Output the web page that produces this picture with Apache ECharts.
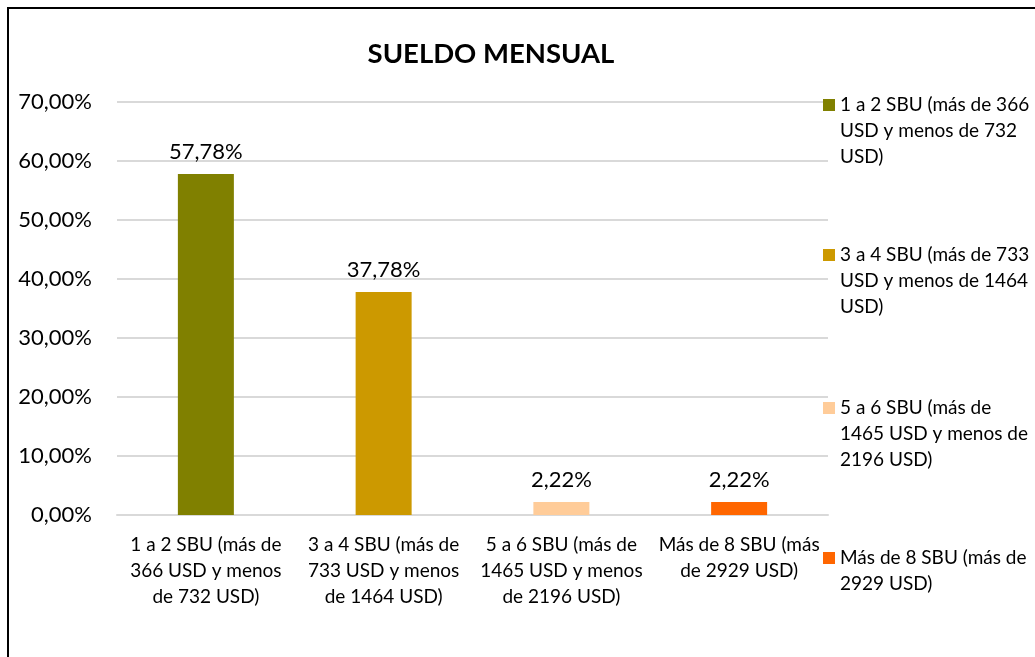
<!DOCTYPE html>
<html>
<head>
  <meta charset="UTF-8">
  <title>Sueldo mensual</title>
  <style>
  html, body {
    margin: 0;
    padding: 0;
    background: #fff;
  }
  #main {
    width: 1035px;
    height: 657px;
  }
  </style>
  <script src="https://cdn.jsdelivr.net/npm/echarts@6/dist/echarts.min.js"></script>
</head>
<body>
  <div id="main"></div>
  <script type="text/javascript">
  // categorias y valores (porcentaje de encuestados)
  var categories = [
    '1 a 2 SBU (más de 366 USD y menos de 732 USD)',
    '3 a 4 SBU (más de 733 USD y menos de 1464 USD)',
    '5 a 6 SBU (más de 1465 USD y menos de 2196 USD)',
    'Más de 8 SBU (más de 2929 USD)'
  ];
  var values = [57.78, 37.78, 2.22, 2.22];
  var colors = ['#808000', '#CC9900', '#FFCC99', '#FF6600'];
  // etiquetas con los saltos de linea como en el original
  var axisLabels = [
    '1 a 2 SBU (más de\n366 USD y menos\nde 732 USD)',
    '3 a 4 SBU (más de\n733 USD y menos\nde 1464 USD)',
    '5 a 6 SBU (más de\n1465 USD y menos\nde 2196 USD)',
    'Más de 8 SBU (más\nde 2929 USD)'
  ];
  var legendLabels = [
    '1 a 2 SBU (más de 366\nUSD y menos de 732\nUSD)',
    '3 a 4 SBU (más de 733\nUSD y menos de 1464\nUSD)',
    '5 a 6 SBU (más de\n1465 USD y menos de\n2196 USD)',
    'Más de 8 SBU (más de\n2929 USD)'
  ];
  var yTicks = [0, 10, 20, 30, 40, 50, 60, 70];

  var FONT = 'Lato';
  var LH = 26;
  var legendIconY = [105, 255, 408, 558];

  function pct(v) {
    return v.toFixed(2).replace('.', ',') + '%';
  }

  var myChart = echarts.init(document.getElementById('main'));

  var series = [];
  var legends = [];
  for (var i = 0; i < categories.length; i++) {
    var d = [];
    for (var j = 0; j < categories.length; j++) {
      d.push(i === j ? values[j] : '-');
    }
    series.push({
      name: categories[i],
      type: 'bar',
      data: d,
      barWidth: 56,
      barGap: '-100%',
      itemStyle: { color: colors[i] },
      label: {
        show: true,
        position: 'top',
        distance: 11,
        color: '#000',
        fontFamily: FONT,
        fontSize: 22,
        formatter: function(p) { return pct(p.value); }
      }
    });
    // el icono queda centrado en el bloque: se anaden lineas vacias arriba
    // para que quede a la altura de la primera linea
    var lines = legendLabels[i].split('\n').length;
    var pad = new Array(lines).join('\n');
    legends.push({
      data: [categories[i]],
      left: 823,
      top: legendIconY[i] - ((lines - 1) * LH + LH / 2),
      padding: 0,
      icon: 'rect',
      itemWidth: 12,
      itemHeight: 12,
      itemGap: 0,
      selectedMode: false,
      formatter: (function(k, p) { return function() { return p + legendLabels[k]; }; })(i, pad),
      textStyle: {
        color: '#000',
        fontFamily: FONT,
        fontSize: 19,
        lineHeight: LH
      }
    });
  }

  var option = {
    animation: false,
    color: colors,
    title: {
      text: 'SUELDO MENSUAL',
      left: 491,
      top: 40,
      padding: 0,
      textAlign: 'center',
      textStyle: {
        color: '#000',
        fontFamily: FONT,
        fontWeight: 'bold',
        fontSize: 27.5
      }
    },
    legend: legends,
    grid: {
      left: 117,
      right: 207,
      top: 102,
      bottom: 142
    },
    xAxis: {
      type: 'category',
      data: categories,
      axisTick: { show: false },
      axisLine: { lineStyle: { color: '#d9d9d9', width: 2 } },
      axisLabel: {
        interval: 0,
        margin: 17,
        color: '#000',
        fontFamily: FONT,
        fontSize: 19,
        lineHeight: LH,
        formatter: function(v, idx) { return axisLabels[idx]; }
      }
    },
    yAxis: {
      type: 'value',
      min: yTicks[0],
      max: yTicks[yTicks.length - 1],
      interval: 10,
      axisLine: { show: false },
      axisTick: { show: false },
      splitLine: { lineStyle: { color: '#d9d9d9', width: 2 } },
      axisLabel: {
        margin: 25,
        color: '#000',
        fontFamily: FONT,
        fontSize: 22,
        formatter: function(v) { return pct(v); }
      }
    },
    graphic: [{
      type: 'rect',
      silent: true,
      z: 100,
      shape: { x: 8, y: 8, width: 1100, height: 700 },
      style: { fill: 'none', stroke: '#000', lineWidth: 2 }
    }],
    series: series
  };

  myChart.setOption(option);
  </script>
</body>
</html>
